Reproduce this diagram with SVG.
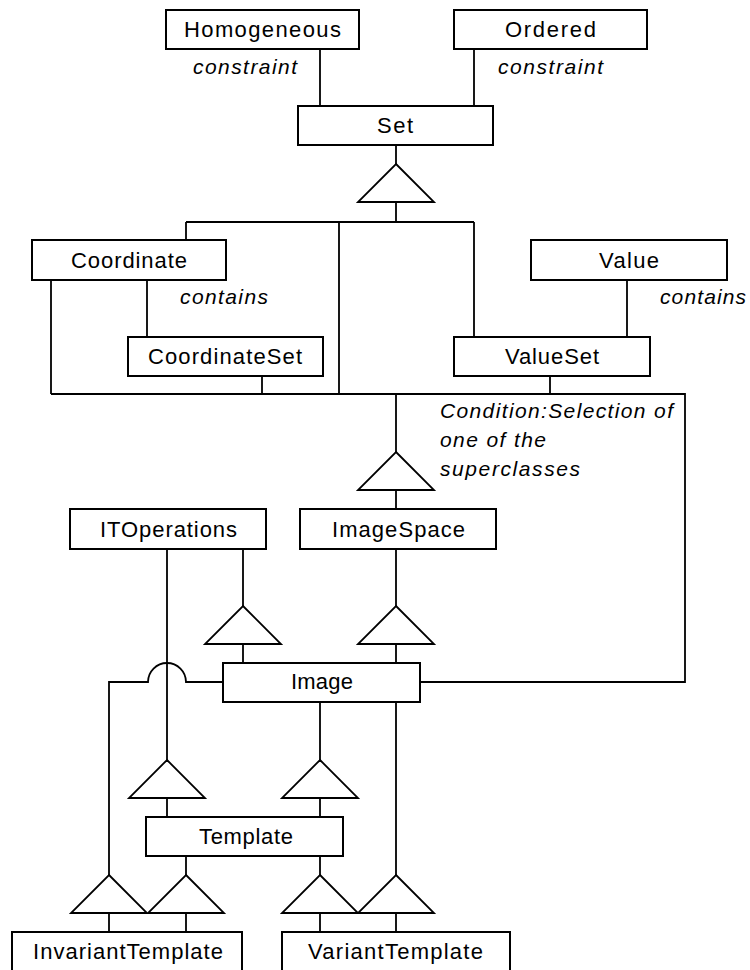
<svg xmlns="http://www.w3.org/2000/svg" width="750" height="970" viewBox="0 0 750 970">
  <style>
    .box { fill: #ffffff; stroke: #000000; stroke-width: 2; }
    .gen { fill: #ffffff; stroke: #000000; stroke-width: 1.8; stroke-linejoin: miter; }
    .wire { fill: none; stroke: #000000; stroke-width: 1.8; }
    .lbl { font-family: "Liberation Sans", Arial, Helvetica, sans-serif; font-size: 22px; fill: #000000; }
    .note { font-family: "Liberation Sans", Arial, Helvetica, sans-serif; font-size: 21px; font-style: italic; fill: #000000; }
  </style>
  <defs>
    <!-- generalisation triangle, apex at origin -->
    <polygon id="tri" class="gen" points="0,0 38,38 -38,38"/>
  </defs>

  <rect width="750" height="970" fill="#ffffff"/>

  <!-- connectors -->
  <g id="connectors">
    <path class="wire" d="M320,49 V106 M474,49 V106"/>
    <path class="wire" d="M396,145 V164 M396,202 V222 M186,222 H474 M186,222 V240 M339,222 V394 M474,222 V337"/>
    <path class="wire" d="M51,280 V394 M147,280 V337 M627,280 V337 M262,376 V394 M550,376 V394 M51,394 H685 V682 H420"/>
    <path class="wire" d="M396,394 V452 M396,489 V509"/>
    <path class="wire" d="M167,549 V760 M243,549 V606 M243,644 V663 M396,549 V606 M396,644 V663"/>
    <path class="wire" d="M109,875 V682 H148 A19,19 0 0 1 186,682 H223"/>
    <path class="wire" d="M320,702 V760 M396,702 V875 M167,798 V817 M320,798 V817 M186,856 V875 M320,856 V875"/>
    <path class="wire" d="M109,913 V932 M186,913 V932 M320,913 V932 M396,913 V932"/>
    <use href="#tri" x="396" y="164"/>
    <use href="#tri" x="396" y="452"/>
    <use href="#tri" x="243" y="606"/>
    <use href="#tri" x="396" y="606"/>
    <use href="#tri" x="167" y="760"/>
    <use href="#tri" x="320" y="760"/>
    <use href="#tri" x="109" y="875"/>
    <use href="#tri" x="186" y="875"/>
    <use href="#tri" x="320" y="875"/>
    <use href="#tri" x="396" y="875"/>
  </g>

  <!-- association and condition labels -->
  <g id="labels">
    <text class="note" x="193" y="74" textLength="104" lengthAdjust="spacing">constraint</text>
    <text class="note" x="498" y="74" textLength="105" lengthAdjust="spacing">constraint</text>
    <text class="note" x="180" y="304" textLength="88" lengthAdjust="spacing">contains</text>
    <text class="note" x="660" y="304" textLength="86" lengthAdjust="spacing">contains</text>
    <text class="note" x="440" y="418" textLength="233" lengthAdjust="spacing">Condition:Selection of</text>
    <text class="note" x="440" y="447" textLength="106" lengthAdjust="spacing">one of the</text>
    <text class="note" x="440" y="476" textLength="140" lengthAdjust="spacing">superclasses</text>
  </g>

  <!-- classes -->
  <g id="Homogeneous">
    <rect class="box" x="166" y="10" width="193" height="39"/>
    <text class="lbl" x="184" y="37" textLength="157" lengthAdjust="spacing">Homogeneous</text>
  </g>
  <g id="Ordered">
    <rect class="box" x="454" y="10" width="193" height="39"/>
    <text class="lbl" x="505" y="37" textLength="91" lengthAdjust="spacing">Ordered</text>
  </g>
  <g id="Set">
    <rect class="box" x="298" y="106" width="195" height="39"/>
    <text class="lbl" x="377" y="133" textLength="36" lengthAdjust="spacing">Set</text>
  </g>
  <g id="Coordinate">
    <rect class="box" x="32" y="240" width="194" height="40"/>
    <text class="lbl" x="71" y="268" textLength="116" lengthAdjust="spacing">Coordinate</text>
  </g>
  <g id="Value">
    <rect class="box" x="531" y="240" width="196" height="40"/>
    <text class="lbl" x="599" y="268" textLength="60" lengthAdjust="spacing">Value</text>
  </g>
  <g id="CoordinateSet">
    <rect class="box" x="128" y="337" width="195" height="39"/>
    <text class="lbl" x="148" y="364" textLength="154" lengthAdjust="spacing">CoordinateSet</text>
  </g>
  <g id="ValueSet">
    <rect class="box" x="454" y="337" width="196" height="39"/>
    <text class="lbl" x="505" y="364" textLength="94" lengthAdjust="spacing">ValueSet</text>
  </g>
  <g id="ITOperations">
    <rect class="box" x="70" y="509" width="196" height="40"/>
    <text class="lbl" x="100" y="537" textLength="137" lengthAdjust="spacing">ITOperations</text>
  </g>
  <g id="ImageSpace">
    <rect class="box" x="300" y="509" width="196" height="40"/>
    <text class="lbl" x="332" y="537" textLength="133" lengthAdjust="spacing">ImageSpace</text>
  </g>
  <g id="Image">
    <rect class="box" x="223" y="663" width="197" height="39"/>
    <text class="lbl" x="291" y="689" textLength="62" lengthAdjust="spacing">Image</text>
  </g>
  <g id="Template">
    <rect class="box" x="146" y="817" width="197" height="39"/>
    <text class="lbl" x="199" y="844" textLength="94" lengthAdjust="spacing">Template</text>
  </g>
  <g id="InvariantTemplate">
    <rect class="box" x="12" y="932" width="230" height="40"/>
    <text class="lbl" x="33" y="959" textLength="190" lengthAdjust="spacing">InvariantTemplate</text>
  </g>
  <g id="VariantTemplate">
    <rect class="box" x="282" y="932" width="228" height="40"/>
    <text class="lbl" x="308" y="959" textLength="175" lengthAdjust="spacing">VariantTemplate</text>
  </g>
</svg>
